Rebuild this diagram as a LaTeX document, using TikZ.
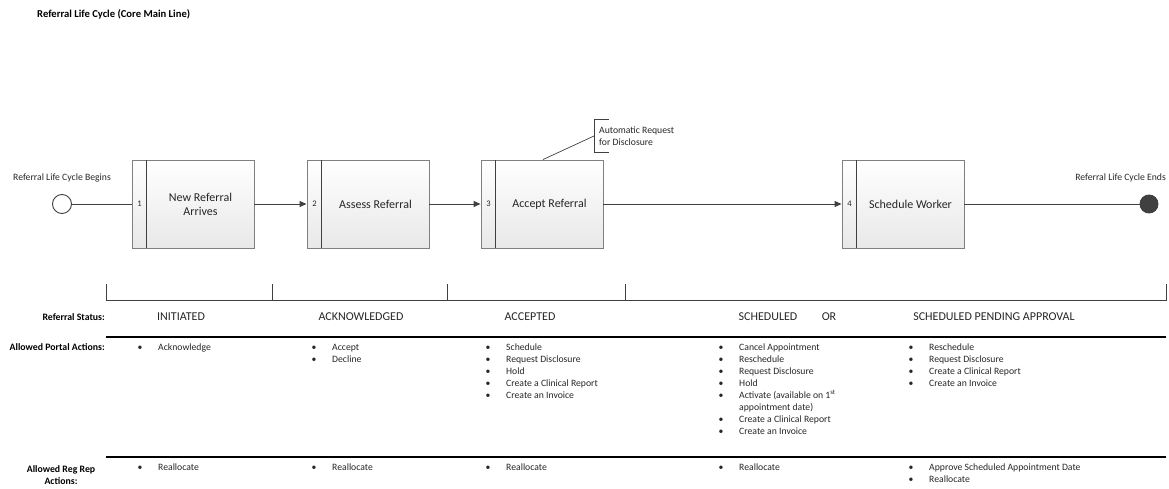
\documentclass[tikz,border=0pt]{standalone}
\usepackage{fontspec}
\setmainfont{Carlito}
\usetikzlibrary{arrows.meta}
\definecolor{linec}{HTML}{404040}
\definecolor{boxborder}{HTML}{808080}
\definecolor{txt}{HTML}{262626}
\newcommand{\blist}[1]{{\renewcommand{\arraystretch}{1}\begin{tabular}[t]{@{}p{20.5pt}@{}l@{}}#1\end{tabular}}}
\tikzset{
  procbox/.style={draw=boxborder, line width=0.9pt, top color=white, bottom color=black!9,
    minimum width=122pt, minimum height=88pt, inner sep=0pt, rectangle},
  divider/.style={draw=linec, line width=0.9pt},
  flow/.style={draw=linec, line width=1pt},
  flowarrow/.style={flow, -{Triangle[length=7pt,width=6pt]}},
  boxlabel/.style={font=\fontsize{12}{14}\selectfont, align=center, text=txt, inner sep=0pt},
  numlabel/.style={font=\fontsize{8.5}{10}\selectfont, text=txt, inner sep=0pt},
  smalltext/.style={font=\fontsize{9.7}{12}\selectfont, text=txt, inner sep=0pt},
  statustext/.style={font=\fontsize{12}{14}\selectfont, text=txt, inner sep=0pt},
  rowhead/.style={font=\bfseries\fontsize{9.8}{12}\selectfont, text=black, inner sep=0pt},
  listnode/.style={font=\fontsize{9.7}{12}\selectfont, text=txt, inner sep=0pt, anchor=base west},
  bracketline/.style={draw=linec, line width=0.8pt},
  endpoint/.style={circle, minimum size=19pt, inner sep=0pt, line width=0.9pt, draw=linec}
}
\begin{document}
\begin{tikzpicture}[x=1pt, y=-1pt]
\useasboundingbox (0,0) rectangle (1169,489);

% title
\node[rowhead, font=\bfseries\fontsize{10.6}{12}\selectfont, anchor=west] (title) at (37,14) {Referral Life Cycle (Core Main Line)};

% start/end
\node[endpoint, fill=white] (start) at (62,204) {};
\node[smalltext] (startlbl) at (62,178) {Referral Life Cycle Begins};
\node[endpoint, fill=linec, minimum size=18pt] (end) at (1149,204) {};
\node[smalltext, anchor=east] (endlbl) at (1166,178) {Referral Life Cycle Ends};

% process boxes
\node[procbox] (b1) at (193,204) {};
\node[procbox] (b2) at (368,204) {};
\node[procbox] (b3) at (542,204) {};
\node[procbox] (b4) at (903,204) {};
\foreach \b in {b1,b2,b3,b4}{
  \draw[divider] ([xshift=15pt]\b.north west) -- ([xshift=15pt]\b.south west);
}
\node[numlabel] (n1) at (139.5,204) {1};
\node[numlabel] (n2) at (314.5,204) {2};
\node[numlabel] (n3) at (488.5,204) {3};
\node[numlabel] (n4) at (849.5,204) {4};
\node[boxlabel] (t1) at (200.5,204) {New Referral\\Arrives};
\node[boxlabel] (t2) at (375.5,204) {Assess Referral};
\node[boxlabel] (t3) at (549.5,204) {Accept Referral};
\node[boxlabel] (t4) at (910.5,204) {Schedule Worker};

% connectors
\draw[flow] (start) -- (b1);
\draw[flowarrow] (b1) -- (b2);
\draw[flowarrow] (b2) -- (b3);
\draw[flowarrow] (b3) -- (b4);
\draw[flow] (b4) -- (end);

% annotation
\node[smalltext, anchor=west, align=left] (ann) at (599,136) {Automatic Request\\for Disclosure};
\coordinate (annmid) at (594,136);
\draw[bracketline] (609,119) -- (594,119) -- (594,152) -- (609,152);
\draw[bracketline, line width=0.7pt] ([xshift=1pt]b3.north) -- (annmid);

% status bracket
\draw[draw=linec, line width=0.8pt] (106,284) -- (106,300) -- (1166,300) -- (1166,284);
\foreach \x in {272,447,625}{ \draw[draw=linec, line width=0.8pt] (\x,284) -- (\x,300); }

\node[rowhead, anchor=east] (hstatus) at (105,317) {Referral Status:};
\node[statustext] (s1) at (181,317) {INITIATED};
\node[statustext] (s2) at (361,317) {ACKNOWLEDGED};
\node[statustext] (s3) at (530,317) {ACCEPTED};
\node[statustext] (s4) at (768,317) {SCHEDULED};
\node[statustext] (s5) at (829,317) {OR};
\node[statustext] (s6) at (994,317) {SCHEDULED PENDING APPROVAL};

% row rules
\draw[black, line width=2pt] (106,337) -- (1166,337);
\draw[black, line width=1.2pt] (106,457) -- (1166,457);

% portal actions
\node[rowhead, anchor=east] (hportal) at (105,347) {Allowed Portal Actions:};
\node[listnode] (p1) at (137.5,350.5) {\blist{\textbullet & Acknowledge\\}};
\node[listnode] (p2) at (311.5,350.5) {\blist{\textbullet & Accept\\ \textbullet & Decline\\}};
\node[listnode] (p3) at (485.5,350.5) {\blist{\textbullet & Schedule\\ \textbullet & Request Disclosure\\ \textbullet & Hold\\ \textbullet & Create a Clinical Report\\ \textbullet & Create an Invoice\\}};
\node[listnode] (p4) at (718.5,350.5) {\blist{\textbullet & Cancel Appointment\\ \textbullet & Reschedule\\ \textbullet & Request Disclosure\\ \textbullet & Hold\\ \textbullet & Activate (available on 1\textsuperscript{st}\\ & appointment date)\\ \textbullet & Create a Clinical Report\\ \textbullet & Create an Invoice\\}};
\node[listnode] (p5) at (908.5,350.5) {\blist{\textbullet & Reschedule\\ \textbullet & Request Disclosure\\ \textbullet & Create a Clinical Report\\ \textbullet & Create an Invoice\\}};

% reg rep actions
\node[rowhead, align=center] (hreg) at (61,475) {Allowed Reg Rep\\Actions:};
\node[listnode] (r1) at (137.5,470.5) {\blist{\textbullet & Reallocate\\}};
\node[listnode] (r2) at (311.5,470.5) {\blist{\textbullet & Reallocate\\}};
\node[listnode] (r3) at (485.5,470.5) {\blist{\textbullet & Reallocate\\}};
\node[listnode] (r4) at (718.5,470.5) {\blist{\textbullet & Reallocate\\}};
\node[listnode] (r5) at (908.5,470.5) {\blist{\textbullet & Approve Scheduled Appointment Date\\ \textbullet & Reallocate\\}};
\end{tikzpicture}
\end{document}
